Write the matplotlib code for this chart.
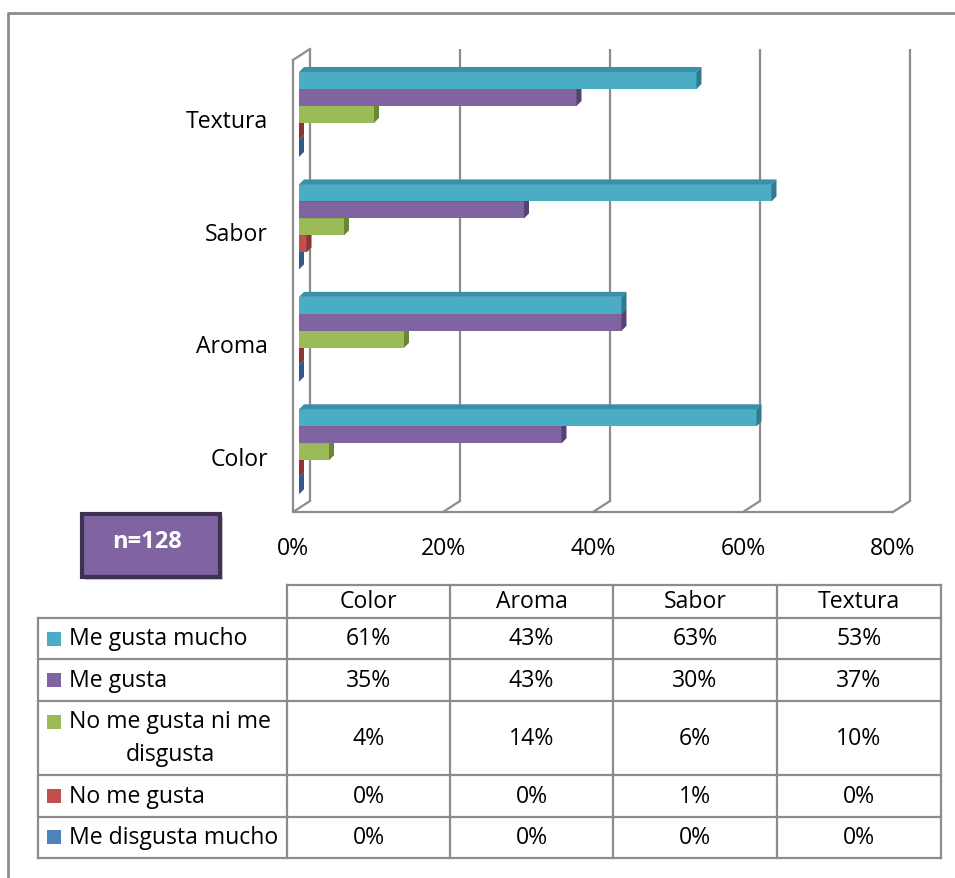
import matplotlib
matplotlib.use('Agg')
import matplotlib.pyplot as plt
from matplotlib.patches import Polygon, Rectangle

plt.rcParams['font.family'] = ['Open Sans', 'DejaVu Sans']

# Datos (% de respuestas, n=128)
categorias = ['Color', 'Aroma', 'Sabor', 'Textura']
me_gusta_mucho = [61, 43, 63, 53]
me_gusta = [35, 43, 30, 37]
ni_gusta_ni_disgusta = [4, 14, 6, 10]
no_me_gusta = [0, 0, 1, 0]
me_disgusta_mucho = [0, 0, 0, 0]

series = ['Me gusta mucho', 'Me gusta', 'No me gusta ni me\ndisgusta',
          'No me gusta', 'Me disgusta mucho']
valores = [me_gusta_mucho, me_gusta, ni_gusta_ni_disgusta,
           no_me_gusta, me_disgusta_mucho]
ticks_x = [0, 20, 40, 60, 80]
n_muestra = 128

# colores: cara frontal, techo y lateral
colores = ['#4BACC6', '#8064A2', '#9BBB59', '#C0504D', '#4F81BD']
techos = ['#3B8FA6', '#6A5289', '#83A043', '#A13F3C', '#3F6CA3']
laterales = ['#2F7A8F', '#564270', '#6B8636', '#8A3533', '#335A8A']

GRIS = '#8C8C8C'
FS = 16.6
W, H = 955, 879

fig = plt.figure(figsize=(W / 100, H / 100), dpi=100)

# capa de fondo en pixeles: marco, tabla y recuadro n
bg = fig.add_axes([0, 0, 1, 1])
bg.set_xlim(0, W)
bg.set_ylim(H, 0)
bg.axis('off')

# grafico de barras
ax = fig.add_axes([299 / W, (H - 509) / H, 600 / W, 452 / H])
ax.set_xlim(0, 80)
ax.set_ylim(-0.50, 3.52)
ax.axis('off')
y0, y1 = ax.get_ylim()
px_x = 80 / 600
px_y = (y1 - y0) / 452


def linea(xs, ys, dx=0, dy=0, **kw):
    ax.plot([x + dx * px_x for x in xs], [y + dy * px_y for y in ys],
            color=GRIS, lw=1.6, clip_on=False, solid_capstyle='butt', **kw)


# paredes y rejilla (profundidad: atras +11,+7 px / frente -6,-4 px)
for v in ticks_x:
    linea([v, v], [y0, y1], 11, 7, zorder=1)
    ax.plot([v + 11 * px_x, v - 6 * px_x], [y0 + 7 * px_y, y0 - 4 * px_y],
            color=GRIS, lw=1.6, clip_on=False, zorder=1)
linea([0, 0], [y0, y1], -6, -4, zorder=1)
ax.plot([-6 * px_x, 11 * px_x], [y1 - 4 * px_y, y1 + 7 * px_y],
        color=GRIS, lw=1.6, clip_on=False, zorder=1)
linea([0, 80], [y0, y0], -6, -4, zorder=1)

# barras con efecto 3D
h = 17 / 112.5
ddx, ddy = 5 * px_x, 5 * px_y
for j in range(len(series) - 1, -1, -1):
    z = 10 - j
    ys = [i + (2 - j) * h for i in range(len(categorias))]
    ax.barh(ys, valores[j], height=h, left=0, color=colores[j],
            edgecolor='none', zorder=z)
    for yc, v in zip(ys, valores[j]):
        yb, yt = yc - h / 2, yc + h / 2
        ax.add_patch(Polygon([(0, yt), (v, yt), (v + ddx, yt + ddy),
                              (ddx, yt + ddy)], closed=True,
                             facecolor=techos[j], edgecolor='none', zorder=z))
        ax.add_patch(Polygon([(v, yb), (v, yt), (v + ddx, yt + ddy),
                              (v + ddx, yb + ddy)], closed=True,
                             facecolor=laterales[j], edgecolor='none', zorder=z))

# etiquetas de ejes
for v in ticks_x:
    ax.text(v - 6 * px_x, y0 - 40 * px_y, f'{v}%', ha='center', va='center',
            fontsize=FS, clip_on=False)
for i, nombre in enumerate(categorias):
    ax.text(-31 * px_x, i - 7 * px_y, nombre, ha='right', va='center',
            fontsize=FS, clip_on=False)

# marco exterior
bg.plot([8, 8, W + 5], [H + 5, 14, 14], color=GRIS, lw=2)

# recuadro n
bg.add_patch(Rectangle((85, 518), 138, 63, facecolor='#D0D0D0', edgecolor='none'))
bg.add_patch(Rectangle((82, 515), 138, 63, facecolor='#8064A2',
                       edgecolor='#3F3151', lw=3))
bg.text(147, 542, f'n={n_muestra}', ha='center', va='center', color='white',
        fontsize=17, fontweight='bold')

# tabla de datos
col_x = [287, 450, 613, 777, 941]
fil_y = [586, 619, 660, 702, 776, 818, 859]
x_izq = 38
bg.plot([col_x[0], col_x[-1]], [fil_y[0], fil_y[0]], color=GRIS, lw=1.6)
for yy in fil_y[1:]:
    bg.plot([x_izq, col_x[-1]], [yy, yy], color=GRIS, lw=1.6)
bg.plot([x_izq, x_izq], [fil_y[1], fil_y[-1]], color=GRIS, lw=1.6)
for xx in col_x:
    bg.plot([xx, xx], [fil_y[0], fil_y[-1]], color=GRIS, lw=1.6)

for k, nombre in enumerate(categorias):
    xc = (col_x[k] + col_x[k + 1]) / 2
    bg.text(xc, (fil_y[0] + fil_y[1]) / 2, nombre, ha='center', va='center',
            fontsize=FS)

for j, etiqueta in enumerate(series):
    yc = (fil_y[j + 1] + fil_y[j + 2]) / 2
    for k, v in enumerate(valores[j]):
        xc = (col_x[k] + col_x[k + 1]) / 2
        bg.text(xc, yc, f'{v}%', ha='center', va='center', fontsize=FS)
    if '\n' in etiqueta:
        ym = yc - 16
        bg.text(170, yc, etiqueta, ha='center', va='center', fontsize=FS,
                multialignment='center', linespacing=1.5)
    else:
        ym = yc
        bg.text(69, yc, etiqueta, ha='left', va='center', fontsize=FS)
    bg.add_patch(Rectangle((47, ym - 7), 14, 14, facecolor=colores[j],
                           edgecolor='none'))

fig.savefig('out.png', dpi=100)
